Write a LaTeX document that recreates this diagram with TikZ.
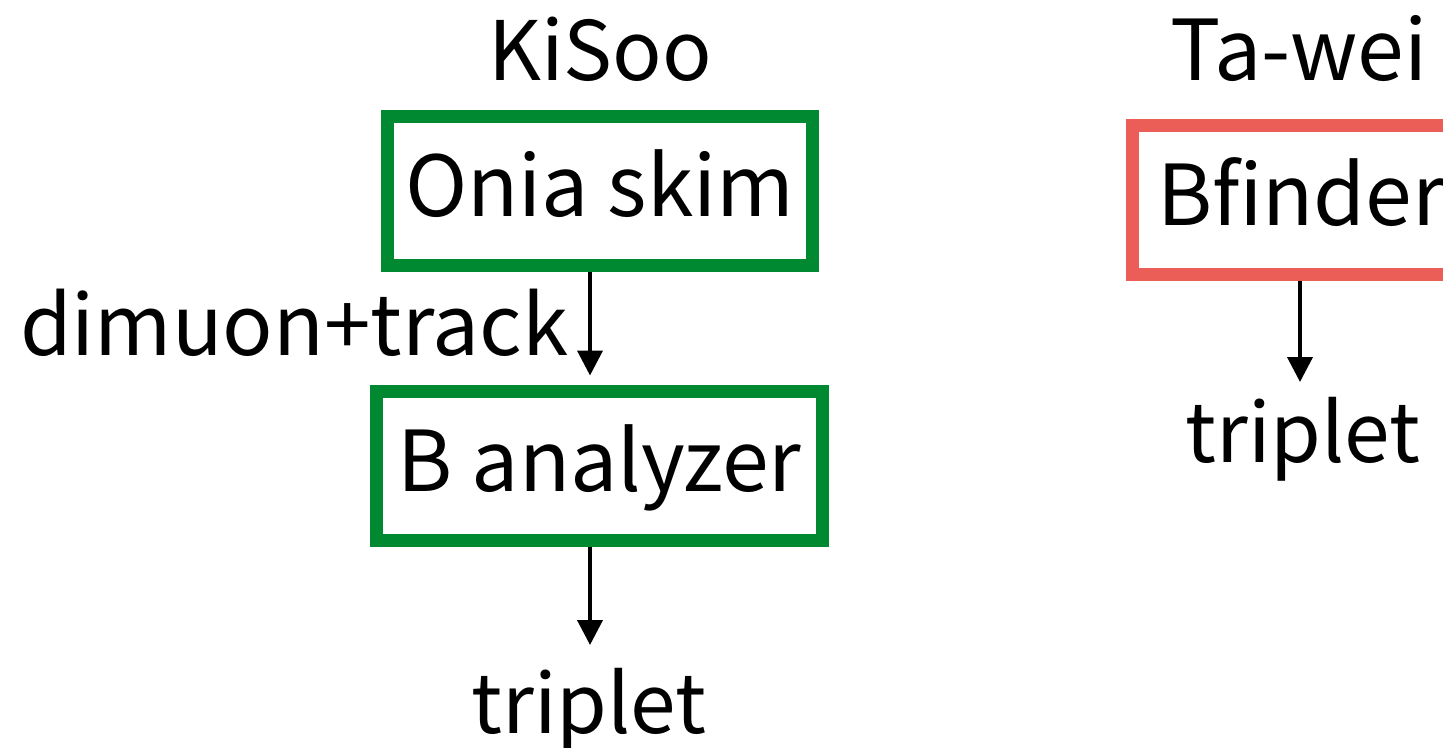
\documentclass[tikz,border=0pt]{standalone}
\usepackage{fontspec}
\setmainfont{Noto Sans CJK KR}
\usetikzlibrary{arrows.meta}
\definecolor{boxgreen}{RGB}{0,137,48}
\definecolor{boxred}{RGB}{235,94,87}
\tikzset{
  label84/.style={font=\fontsize{82}{82}\selectfont, inner sep=0pt, anchor=base},
  stagebox/.style={draw, line width=13pt, inner sep=0pt,
    text height=60pt, text depth=9pt,
    font=\fontsize{84}{84}\selectfont},
  flow/.style={line width=4pt, -{Triangle[length=25pt,width=25pt]}}
}
\begin{document}
\begin{tikzpicture}[x=1pt,y=-1pt]
  \useasboundingbox (0,0) rectangle (1443,747);

  % KiSoo chain
  \node[label84] (kisoo) at (600,80) {KiSoo};
  \node[stagebox, draw=boxgreen, minimum width=424.5pt, minimum height=149pt]
    (onia) at (599.75,191) {Onia skim};
  \node[stagebox, draw=boxgreen, minimum width=446pt, minimum height=149pt]
    (bana) at (599.5,465.5) {B analyzer};
  \node[label84, anchor=base west, font=\fontsize{83.5}{84}\selectfont] (dimu) at (20,355) {dimuon+track};
  \node[label84] (tripL) at (589,733) {triplet};

  \draw[flow] ([xshift=-9.75pt]onia.south) -- ([xshift=-9.5pt,yshift=9pt]bana.north);
  \draw[flow] ([xshift=-9.5pt]bana.south) -- (590,645);

  % Ta-wei chain
  \node[label84, font=\fontsize{84}{84}\selectfont] (tawei) at (1299,80) {Ta-wei};
  \node[stagebox, draw=boxred, minimum width=338pt, minimum height=149pt, text width=288pt, align=left]
    (bfind) at (1301,199.5) {Bfinder};
  \node[label84] (tripR) at (1303,462) {triplet};

  \draw[flow] (bfind.south -| 1300,0) -- (1300,382);
\end{tikzpicture}
\end{document}
